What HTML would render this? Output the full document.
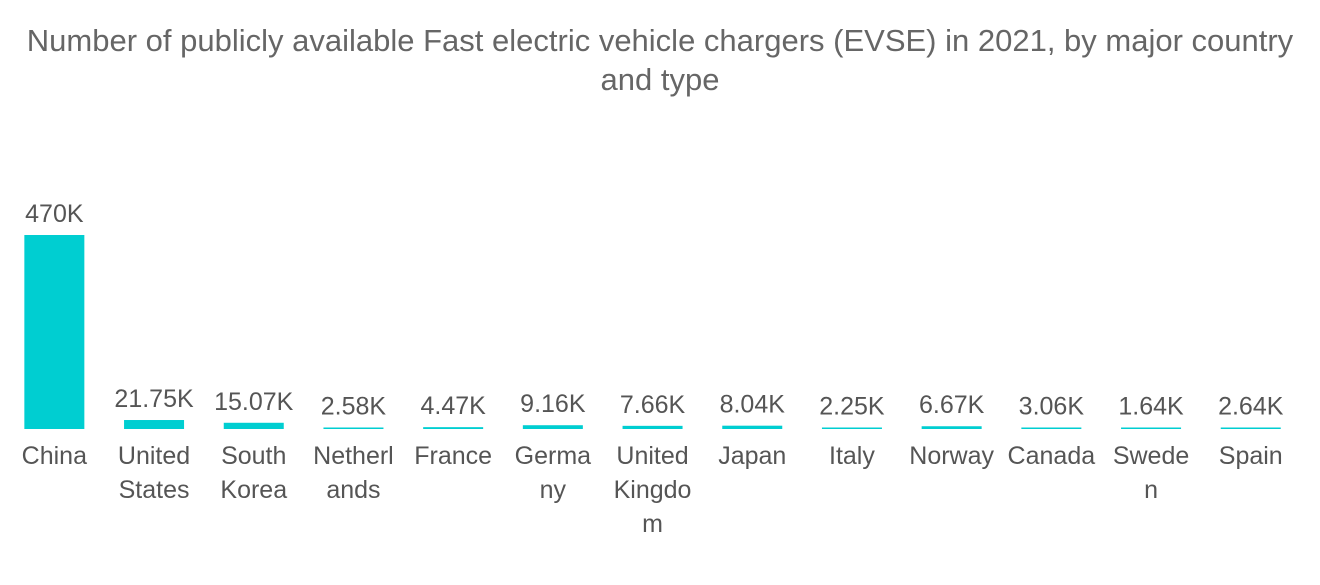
<!DOCTYPE html>
<html><head><meta charset="utf-8"><style>
body{margin:0;background:#fff;width:1320px;height:585px;overflow:hidden;font-family:"Liberation Sans",sans-serif}
#title{position:absolute;left:0;width:1320px;top:21px;text-align:center;font-size:31px;line-height:39px;color:#666}
</style></head><body>
<div id="title">Number of publicly available Fast electric vehicle chargers (EVSE) in 2021, by major country<br>and type</div>
<svg id="chart" width="1320" height="585" style="position:absolute;left:0;top:0"></svg>
<script>
const categories=["China","United States","South Korea","Netherlands","France","Germany","United Kingdom","Japan","Italy","Norway","Canada","Sweden","Spain"];
const categoryLines=[["China"],["United","States"],["South","Korea"],["Netherl","ands"],["France"],["Germa","ny"],["United","Kingdo","m"],["Japan"],["Italy"],["Norway"],["Canada"],["Swede","n"],["Spain"]];
const values=[470000,21750,15070,2580,4470,9160,7660,8040,2250,6670,3060,1640,2640];
const valueLabels=["470K","21.75K","15.07K","2.58K","4.47K","9.16K","7.66K","8.04K","2.25K","6.67K","3.06K","1.64K","2.64K"];
const svg=document.getElementById('chart');
const NS='http://www.w3.org/2000/svg';
const base=429, maxH=194, maxV=470000, x0=4.5, step=99.7, bw=60;
function yScale(v){return base-v/maxV*maxH;}
function xCenter(i){return x0+step*i+step/2;}
categories.forEach((c,i)=>{
  const cx=xCenter(i);
  const y=Math.min(yScale(values[i]),base-1.5);
  const r=document.createElementNS(NS,'rect');
  r.setAttribute('x',cx-bw/2);r.setAttribute('y',y);r.setAttribute('width',bw);r.setAttribute('height',base-y);
  r.setAttribute('fill','#00CED1');
  
  
  svg.appendChild(r);
  const t=document.createElementNS(NS,'text');
  t.setAttribute('x',cx);t.setAttribute('y',y-13);t.setAttribute('text-anchor','middle');
  t.setAttribute('font-size','25');t.setAttribute('fill','#555');
  t.setAttribute('font-family','Liberation Sans, sans-serif');
  t.textContent=valueLabels[i];
  
  
  svg.appendChild(t);
  categoryLines[i].forEach((ln,j)=>{
    const l=document.createElementNS(NS,'text');
    l.setAttribute('x',cx);l.setAttribute('y',464+j*34);l.setAttribute('text-anchor','middle');
    l.setAttribute('font-size','25');l.setAttribute('fill','#555');
    l.setAttribute('font-family','Liberation Sans, sans-serif');
    l.textContent=ln;
    
    
    svg.appendChild(l);
  });
});
</script>
</body></html>
